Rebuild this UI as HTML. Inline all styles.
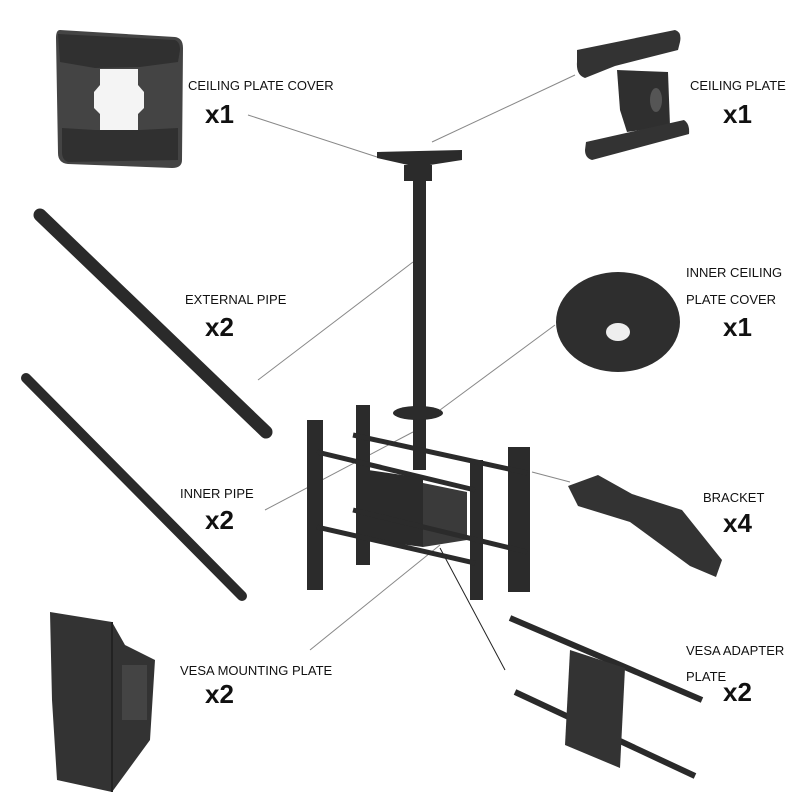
<!DOCTYPE html>
<html><head><style>
body{margin:0;background:#fff}
svg{display:block}
text{font-family:"Liberation Sans",sans-serif;fill:#111}
.s{font-size:13px}
.b{font-size:26px;font-weight:bold}
</style></head><body>
<svg width="800" height="800" viewBox="0 0 800 800">
<rect width="800" height="800" fill="#fff"/>
<g stroke="#888" stroke-width="1">
<line x1="248" y1="115" x2="377" y2="157"/>
<line x1="575" y1="75" x2="432" y2="142"/>
<line x1="258" y1="380" x2="413" y2="262"/>
<line x1="555" y1="325" x2="440" y2="410"/>
<line x1="265" y1="510" x2="413" y2="432"/>
<line x1="532" y1="472" x2="570" y2="482"/>
<line x1="310" y1="650" x2="440" y2="545"/>
<line x1="505" y1="670" x2="440" y2="548" stroke="#222"/>
</g>
<!-- ceiling plate cover -->
<path d="M60,30 L175,37 Q183,38 183,48 L182,160 Q182,168 172,168 L68,164 Q58,163 58,153 L56,38 Q56,30 60,30Z" fill="#444"/>
<path d="M58,34 L175,40 Q180,42 180,50 L178,62 L140,67 L95,68 L60,62Z" fill="#303030"/>
<path d="M62,128 L95,130 L140,130 L178,128 L178,160 L68,162 Q62,160 62,152Z" fill="#303030"/>
<path d="M94,69 L138,69 L138,85 L144,92 L144,108 L138,114 L138,130 L100,130 L100,114 L94,108 L94,92 L100,85 L100,69Z" fill="#f4f4f4"/>
<!-- ceiling plate -->
<path d="M577,50 L675,30 Q682,32 680,42 L678,50 L615,66 L585,78 Q576,75 577,62Z" fill="#333"/>
<path d="M617,70 L668,72 L670,126 L627,132 L620,110Z" fill="#2f2f2f"/>
<path d="M586,142 L684,120 Q690,124 689,134 L592,160 Q585,158 585,150Z" fill="#333"/>
<ellipse cx="656" cy="100" rx="6" ry="12" fill="#555"/>
<line x1="40" y1="215" x2="266" y2="432" stroke="#2a2a2a" stroke-width="13" stroke-linecap="round"/>
<line x1="26" y1="378" x2="242" y2="596" stroke="#2a2a2a" stroke-width="10" stroke-linecap="round"/>
<ellipse cx="618" cy="322" rx="62" ry="50" fill="#2e2e2e"/>
<ellipse cx="618" cy="332" rx="12" ry="9" fill="#eee"/>
<path d="M568,486 L598,475 L632,494 L682,510 L722,560 L716,577 L690,566 L630,522 L578,506Z" fill="#333"/>
<path d="M50,612 L112,622 L125,645 L155,660 L150,740 L112,792 L57,780 L52,700Z" fill="#333"/>
<path d="M112,622 L112,792" stroke="#222" stroke-width="2"/>
<rect x="122" y="665" width="25" height="55" fill="#444"/>
<line x1="510" y1="618" x2="702" y2="700" stroke="#2a2a2a" stroke-width="6"/>
<line x1="515" y1="692" x2="695" y2="776" stroke="#2a2a2a" stroke-width="6"/>
<path d="M570,650 L625,668 L620,768 L565,745Z" fill="#333"/>
<g fill="#2b2b2b">
<path d="M377,152 L462,150 L462,160 L417,167 L377,158Z"/>
<rect x="404" y="165" width="28" height="16"/>
<rect x="413" y="180" width="13" height="290"/>
<ellipse cx="418" cy="413" rx="25" ry="7"/>
<rect x="307" y="420" width="16" height="170"/>
<rect x="356" y="405" width="14" height="160"/>
<rect x="508" y="447" width="22" height="145"/>
<rect x="470" y="460" width="13" height="140"/>
<path d="M368,470 L423,478 L423,547 L368,540Z"/>
<path d="M423,483 L467,492 L467,540 L423,547Z" fill="#3a3a3a"/>
</g>
<g stroke="#2b2b2b" stroke-width="5">
<line x1="317" y1="452" x2="475" y2="490"/>
<line x1="317" y1="527" x2="475" y2="563"/>
<line x1="353" y1="435" x2="527" y2="473"/>
<line x1="353" y1="510" x2="527" y2="552"/>
</g>
<text class="s" x="188" y="90">CEILING PLATE COVER</text>
<text class="b" x="205" y="123">x1</text>
<text class="s" x="690" y="90">CEILING PLATE</text>
<text class="b" x="723" y="123">x1</text>
<text class="s" x="185" y="304">EXTERNAL PIPE</text>
<text class="b" x="205" y="336">x2</text>
<text class="s" x="686" y="277">INNER CEILING</text>
<text class="s" x="686" y="304">PLATE COVER</text>
<text class="b" x="723" y="336">x1</text>
<text class="s" x="180" y="498">INNER PIPE</text>
<text class="b" x="205" y="529">x2</text>
<text class="s" x="703" y="502">BRACKET</text>
<text class="b" x="723" y="532">x4</text>
<text class="s" x="180" y="675">VESA MOUNTING PLATE</text>
<text class="b" x="205" y="703">x2</text>
<text class="s" x="686" y="655">VESA ADAPTER</text>
<text class="s" x="686" y="681">PLATE</text>
<text class="b" x="723" y="701">x2</text>
</svg>
</body></html>
